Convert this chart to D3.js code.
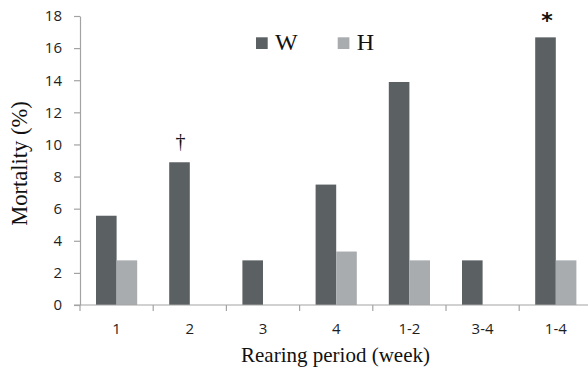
<!DOCTYPE html>
<html>
<head>
<meta charset="utf-8">
<script src="https://cdn.jsdelivr.net/npm/d3@7"></script>
<style>
  html, body { margin: 0; padding: 0; background: #ffffff; }
  svg { display: block; }
</style>
</head>
<body>
<svg id="chart" width="588" height="370"></svg>
<script>
const categories = ["1", "2", "3", "4", "1-2", "3-4", "1-4"];
const seriesNames = ["W", "H"];
const valuesW = [5.56, 8.89, 2.78, 7.5, 13.89, 2.78, 16.67];
const valuesH = [2.78, 0, 0, 3.33, 2.78, 0, 2.78];
const yTicks = [0, 2, 4, 6, 8, 10, 12, 14, 16, 18];
const annotations = [{ cat: "2", series: "W", text: "\u2020" }, { cat: "1-4", series: "W", text: "*" }];
const colors = { W: "#5b6063", H: "#a8acaf" };

const data = categories.map((c, i) => ({ cat: c, W: valuesW[i], H: valuesH[i] }));

const svg = d3.select("#chart");
const margin = { left: 80, top: 16, bottom: 305, right: 592.4 };

const x0 = d3.scaleBand().domain(categories).range([margin.left, margin.right]).padding(0);
const bw = x0.bandwidth();
const x1 = d3.scaleBand().domain(seriesNames).range([bw / 2 - 20.6, bw / 2 + 20.6]).padding(0);
const y = d3.scaleLinear().domain([0, 18]).range([margin.bottom, margin.top]);

const axisColor = "#a3a3a3";

// Y axis
const yAxis = svg.append("g")
  .attr("transform", `translate(${margin.left},0)`)
  .call(d3.axisLeft(y).tickValues(yTicks).tickSize(6).tickPadding(12).tickSizeOuter(0));
yAxis.select(".domain").attr("stroke", axisColor).attr("stroke-width", 1.2);
yAxis.selectAll(".tick line").attr("stroke", axisColor).attr("stroke-width", 1.2);
yAxis.selectAll(".tick text")
  .attr("font-family", "'Open Sans', sans-serif")
  .attr("font-size", 15)
  .attr("fill", "#1e1e1e");

// Bars
const groups = svg.append("g").selectAll("g").data(data).join("g")
  .attr("transform", d => `translate(${x0(d.cat)},0)`);
groups.selectAll("rect")
  .data(d => seriesNames.map(s => ({ s, v: d[s] })))
  .join("rect")
  .attr("x", d => x1(d.s))
  .attr("width", x1.bandwidth())
  .attr("y", d => y(d.v))
  .attr("height", d => y(0) - y(d.v))
  .attr("fill", d => colors[d.s]);

// X axis (labels centered, ticks at band boundaries)
const xAxis = svg.append("g")
  .attr("transform", `translate(0,${margin.bottom})`)
  .call(d3.axisBottom(x0).tickSize(0).tickPadding(18.3));
xAxis.select(".domain").remove();
xAxis.selectAll(".tick text")
  .attr("font-family", "'Open Sans', sans-serif")
  .attr("font-size", 15)
  .attr("fill", "#1e1e1e");

const boundaries = categories.map(c => x0(c)).concat([x0(categories[categories.length - 1]) + bw]);
svg.append("line")
  .attr("x1", margin.left - 6).attr("x2", 588)
  .attr("y1", y(0)).attr("y2", y(0))
  .attr("stroke", axisColor).attr("stroke-width", 1.2);
svg.append("g").selectAll("line").data(boundaries).join("line")
  .attr("x1", d => d).attr("x2", d => d)
  .attr("y1", y(0)).attr("y2", y(0) + 6)
  .attr("stroke", axisColor).attr("stroke-width", 1.2);

// Annotations
svg.append("g").selectAll("text").data(annotations).join("text")
  .attr("x", d => x0(d.cat) + x1(d.series) + x1.bandwidth() / 2 + (d.text === "*" ? 1.5 : 1))
  .attr("y", d => {
    const v = d.series === "W" ? valuesW[categories.indexOf(d.cat)] : valuesH[categories.indexOf(d.cat)];
    return d.text === "*" ? y(v) - 9 : y(v) - 14.5;
  })
  .attr("text-anchor", "middle")
  .attr("font-family", d => d.text === "*" ? "'DejaVu Sans', sans-serif" : "'Liberation Serif', 'Times New Roman', serif")
  .attr("font-weight", d => d.text === "*" ? "bold" : "normal")
  .attr("font-size", d => d.text === "*" ? 22 : 20)
  .attr("fill", "#111")
  .text(d => d.text);

// Legend
const legendItems = [{ s: "W", x: 256 }, { s: "H", x: 337.7 }];
const lg = svg.append("g");
lg.selectAll("rect").data(legendItems).join("rect")
  .attr("x", d => d.x).attr("y", 37.3)
  .attr("width", 11.7).attr("height", 11.7)
  .attr("fill", d => colors[d.s]);
lg.selectAll("text").data(legendItems).join("text")
  .attr("x", d => d.x + 19)
  .attr("y", 49.5)
  .attr("font-family", "'Liberation Serif', 'Times New Roman', serif")
  .attr("font-size", 24)
  .attr("fill", "#111")
  .text(d => d.s);

// Axis titles
svg.append("text")
  .attr("x", 335.5).attr("y", 361.5)
  .attr("text-anchor", "middle")
  .attr("font-family", "'Liberation Serif', 'Times New Roman', serif")
  .attr("font-size", 21)
  .attr("fill", "#111")
  .text("Rearing period (week)");

svg.append("text")
  .attr("transform", "translate(26.5,163.5) rotate(-90)")
  .attr("text-anchor", "middle")
  .attr("font-family", "'Liberation Serif', 'Times New Roman', serif")
  .attr("font-size", 22.5)
  .attr("fill", "#111")
  .text("Mortality (%)");
</script>
</body>
</html>
